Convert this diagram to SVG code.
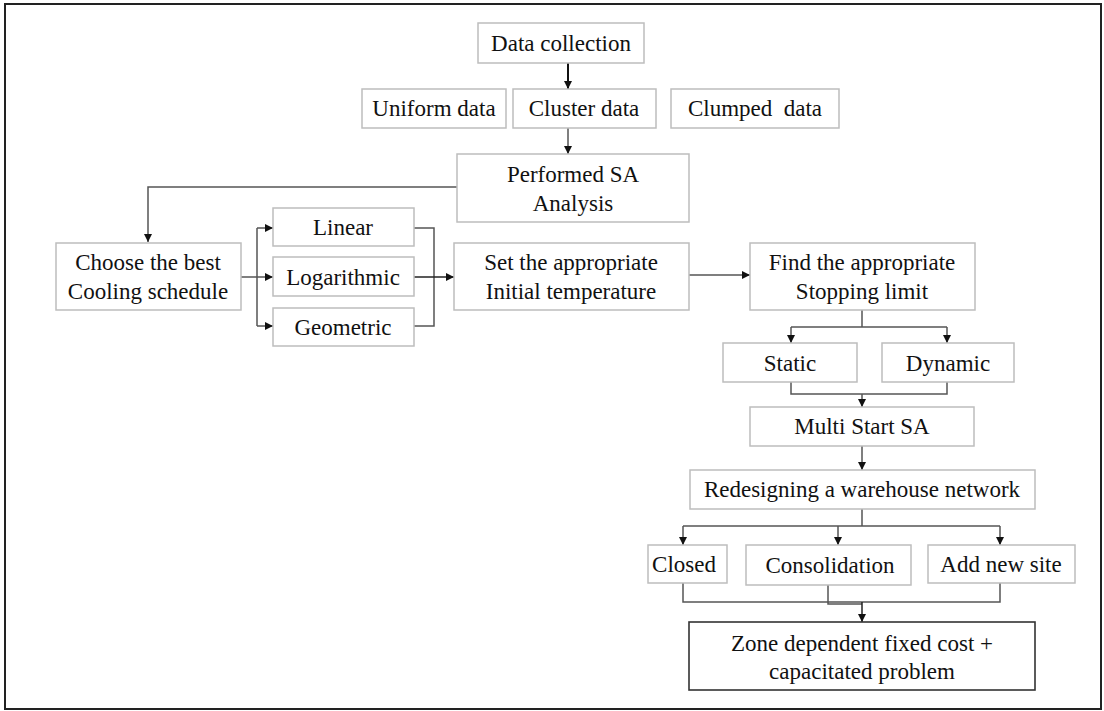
<svg xmlns="http://www.w3.org/2000/svg" width="1104" height="711" viewBox="0 0 1104 711">
  <style>
    .box { fill: #ffffff; stroke: #bdbdbd; stroke-width: 1.5; }
    .box-dark { fill: #ffffff; stroke: #333333; stroke-width: 1.6; }
    .lbl { font-family: "Liberation Serif", "Times New Roman", serif; font-size: 23px; fill: #111111; text-anchor: middle; }
    .wire { fill: none; stroke: #555555; stroke-width: 1.5; }
    .wire-arr { fill: none; stroke: #555555; stroke-width: 1.5; marker-end: url(#tip); }
  </style>
  <defs>
    <marker id="tip" viewBox="0 0 10 10" refX="10" refY="5" markerWidth="8" markerHeight="8" markerUnits="userSpaceOnUse" orient="auto">
      <path d="M0,0 L10,5 L0,10 z" fill="#111111"/>
    </marker>
  </defs>

  <rect width="1104" height="711" fill="#ffffff"/>
  <!-- outer frame -->
  <rect x="5" y="4" width="1096" height="705" fill="none" stroke="#222222" stroke-width="2"/>

  <!-- connectors -->
  <g id="connectors">
    <path class="wire-arr" d="M568,63 V89" style="stroke:#111;stroke-width:2"/>
    <path class="wire-arr" d="M568,128 V154"/>
    <path class="wire-arr" d="M457,187 H148 V242"/>
    <path class="wire" d="M241,277 H257"/>
    <path class="wire" d="M257,228 V326"/>
    <path class="wire-arr" d="M257,228 H273"/>
    <path class="wire-arr" d="M257,277 H273"/>
    <path class="wire-arr" d="M257,326 H273"/>
    <path class="wire" d="M414,228 H434 V326 H414"/>
    <path class="wire-arr" d="M414,277 H454" style="stroke:#222"/>
    <path class="wire-arr" d="M689,275 H750"/>
    <path class="wire" d="M862,310 V327"/>
    <path class="wire" d="M791,327 H947"/>
    <path class="wire-arr" d="M791,327 V343"/>
    <path class="wire-arr" d="M947,327 V343"/>
    <path class="wire" d="M791,382 V394 H947 V382"/>
    <path class="wire-arr" d="M862,394 V407"/>
    <path class="wire-arr" d="M862,446 V470"/>
    <path class="wire" d="M862,509 V526"/>
    <path class="wire" d="M683,526 H1000"/>
    <path class="wire-arr" d="M683,526 V545"/>
    <path class="wire-arr" d="M838,526 V545"/>
    <path class="wire-arr" d="M1000,526 V545"/>
    <path class="wire" d="M683,583 V602 H1000 V583"/>
    <path class="wire" d="M828,585 V604 H862"/>
    <path class="wire-arr" d="M862,602 V622" style="stroke:#222"/>
  </g>

  <g id="data-collection">
    <rect class="box" x="478" y="23" width="166" height="40"/>
    <text class="lbl" x="561" y="51">Data collection</text>
  </g>
  <g id="uniform-data">
    <rect class="box" x="362" y="89" width="144" height="39"/>
    <text class="lbl" x="434" y="116">Uniform data</text>
  </g>
  <g id="cluster-data">
    <rect class="box" x="513" y="89" width="143" height="39"/>
    <text class="lbl" x="584" y="116">Cluster data</text>
  </g>
  <g id="clumped-data">
    <rect class="box" x="671" y="89" width="168" height="39"/>
    <text class="lbl" x="755" y="116" xml:space="preserve">Clumped  data</text>
  </g>
  <g id="performed-sa">
    <rect class="box" x="457" y="154" width="232" height="68"/>
    <text class="lbl" x="573" y="182">Performed SA</text>
    <text class="lbl" x="573" y="211">Analysis</text>
  </g>
  <g id="choose-cooling">
    <rect class="box" x="56" y="243" width="185" height="67"/>
    <text class="lbl" x="148" y="270">Choose the best</text>
    <text class="lbl" x="148" y="299">Cooling schedule</text>
  </g>
  <g id="linear">
    <rect class="box" x="273" y="208" width="141" height="38"/>
    <text class="lbl" x="343" y="235">Linear</text>
  </g>
  <g id="logarithmic">
    <rect class="box" x="273" y="257" width="141" height="39"/>
    <text class="lbl" x="343" y="285">Logarithmic</text>
  </g>
  <g id="geometric">
    <rect class="box" x="273" y="308" width="141" height="38"/>
    <text class="lbl" x="343" y="335">Geometric</text>
  </g>
  <g id="initial-temperature">
    <rect class="box" x="454" y="243" width="235" height="67"/>
    <text class="lbl" x="571" y="270">Set the appropriate</text>
    <text class="lbl" x="571" y="299">Initial temperature</text>
  </g>
  <g id="stopping-limit">
    <rect class="box" x="750" y="243" width="225" height="67"/>
    <text class="lbl" x="862" y="270">Find the appropriate</text>
    <text class="lbl" x="862" y="299">Stopping limit</text>
  </g>
  <g id="static">
    <rect class="box" x="723" y="343" width="134" height="39"/>
    <text class="lbl" x="790" y="371">Static</text>
  </g>
  <g id="dynamic">
    <rect class="box" x="882" y="343" width="132" height="39"/>
    <text class="lbl" x="948" y="371">Dynamic</text>
  </g>
  <g id="multi-start">
    <rect class="box" x="750" y="407" width="224" height="39"/>
    <text class="lbl" x="862" y="434">Multi Start SA</text>
  </g>
  <g id="redesign">
    <rect class="box" x="690" y="470" width="345" height="39"/>
    <text class="lbl" x="862" y="497">Redesigning a warehouse network</text>
  </g>
  <g id="closed">
    <rect class="box" x="648" y="545" width="79" height="38"/>
    <text class="lbl" x="684" y="572">Closed</text>
  </g>
  <g id="consolidation">
    <rect class="box" x="746" y="545" width="165" height="40"/>
    <text class="lbl" x="830" y="573">Consolidation</text>
  </g>
  <g id="add-new-site">
    <rect class="box" x="928" y="545" width="147" height="38"/>
    <text class="lbl" x="1001" y="572">Add new site</text>
  </g>
  <g id="zone-cost">
    <rect class="box-dark" x="689" y="622" width="346" height="68"/>
    <text class="lbl" x="862" y="651">Zone dependent fixed cost +</text>
    <text class="lbl" x="862" y="679">capacitated problem</text>
  </g>
</svg>
